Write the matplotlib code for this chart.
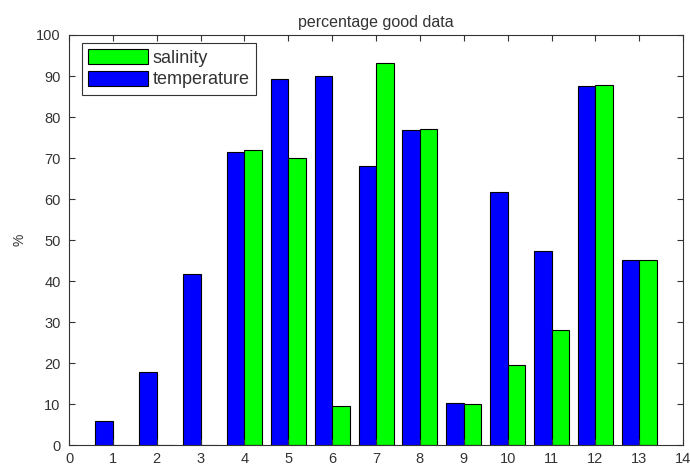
"""Bar chart of the percentage of good data per station."""

import numpy as np
import matplotlib
matplotlib.use("Agg")
import matplotlib.pyplot as plt

stations = [1, 2, 3, 4, 5, 6, 7, 8, 9, 10, 11, 12, 13]
temperature = [6.0, 17.8, 41.8, 71.6, 89.3, 89.9, 68.2, 76.9, 10.4, 61.7, 47.4, 87.5, 45.2]
salinity = [0, 0, 0, 72.0, 70.0, 9.6, 93.1, 77.2, 10.2, 19.6, 28.2, 87.8, 45.2]

plt.rcParams['font.family'] = ['Liberation Sans', 'DejaVu Sans']
plt.rcParams['font.size'] = 10.5

fig = plt.figure(figsize=(6.9, 4.66), dpi=100)
ax = fig.add_axes([0.1, 0.044, 0.89, 0.881])

x = np.array(stations)
width = 0.4
# temperature to the left of each station, salinity to the right
b_temp = ax.bar(x - width / 2, temperature, width, color='#0000ff',
                edgecolor='black', linewidth=0.8, label='temperature')
b_sal = ax.bar(x + width / 2, salinity, width, color='#00ff00',
               edgecolor='black', linewidth=0.8, label='salinity')

ax.set_xlim(0, 14)
ax.set_ylim(0, 100)
ax.set_xticks(range(0, 15))
ax.set_yticks(range(0, 101, 10))
ax.tick_params(direction='in', top=True, right=True, length=4,
               colors='#333333', labelcolor='#333333')
ax.tick_params(axis='x', pad=5)
ax.tick_params(axis='y', pad=6)
for side in ax.spines.values():
    side.set_color('#333333')
    side.set_linewidth(0.8)

ax.set_title('percentage good data', fontsize=11.5, color='#333333', pad=6)
ax.set_ylabel('%', fontsize=10, color='#333333', labelpad=7)

leg = ax.legend([b_sal, b_temp], ['salinity', 'temperature'], loc='upper left',
                bbox_to_anchor=(0.021, 0.981), borderaxespad=0,
                fancybox=False, framealpha=1, edgecolor='#333333',
                handlelength=3.3, handleheight=0.9, handletextpad=0.25,
                borderpad=0.35, labelspacing=0.22, fontsize=13)
leg.get_frame().set_linewidth(0.8)
for t in leg.get_texts():
    t.set_color('#333333')

fig.savefig('out.png', dpi=100)
